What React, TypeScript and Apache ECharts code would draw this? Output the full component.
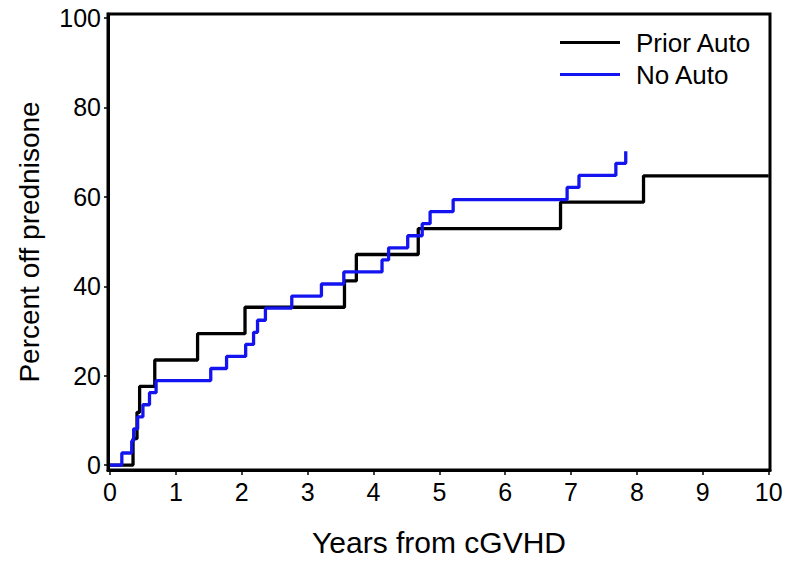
import React, { useEffect, useRef } from "react";
import * as echarts from "echarts";

const xTicks = [0, 1, 2, 3, 4, 5, 6, 7, 8, 9, 10];
const yTicks = [0, 20, 40, 60, 80, 100];

const priorAutoX = [0, 0.35, 0.41, 0.45, 0.68, 1.33, 2.05, 3.56, 3.74, 4.68, 6.84, 8.1, 10.0];
const priorAutoY = [0, 5.9, 11.8, 17.6, 23.5, 29.4, 35.3, 41.2, 47.1, 52.9, 58.8, 64.7, 64.7];

const noAutoX = [0, 0.18, 0.33, 0.36, 0.42, 0.5, 0.6, 0.7, 1.53, 1.77, 2.06, 2.18, 2.24, 2.36, 2.76, 3.21, 3.55, 4.13, 4.23, 4.52, 4.74, 4.86, 5.21, 6.94, 7.12, 7.68, 7.83];
const noAutoY = [0, 2.7, 5.4, 8.1, 10.8, 13.5, 16.2, 18.9, 21.6, 24.3, 27.0, 29.7, 32.4, 35.1, 37.8, 40.5, 43.2, 45.9, 48.6, 51.3, 54.0, 56.7, 59.4, 62.1, 64.8, 67.5, 70.2];

const seriesNames = ["Prior Auto", "No Auto"];

export default function App() {
  const ref = useRef<HTMLDivElement>(null);
  useEffect(() => {
    if (!ref.current) return;
    const chart = echarts.init(ref.current, null, { renderer: "svg" });
    const font = "'Liberation Sans', Arial, sans-serif";
    chart.setOption({
      animation: false,
      backgroundColor: "#fff",
      grid: {
        left: 108,
        right: 16,
        top: 14,
        bottom: 89,
        show: true,
        borderColor: "#000",
        borderWidth: 3,
      },
      legend: {
        show: true,
        orient: "vertical",
        left: 555,
        top: 24,
        icon: "rect",
        itemWidth: 60,
        itemHeight: 3,
        itemGap: 5,
        data: seriesNames,
        textStyle: {
          fontFamily: font,
          fontSize: 26,
          color: "#000",
          lineHeight: 27,
          padding: [0, 0, 0, 11],
        },
      },
      xAxis: {
        type: "value",
        min: -0.03,
        max: 10.02,
        interval: 1,
        name: "Years from cGVHD",
        nameLocation: "middle",
        nameGap: 57,
        nameTextStyle: { fontFamily: font, fontSize: 30, color: "#000" },
        axisLine: { show: true, onZero: false, lineStyle: { color: "#000", width: 3 } },
        axisTick: {
          show: true,
          length: 5,
          lineStyle: { color: "#000", width: 1.5 },
          customValues: xTicks,
        },
        axisLabel: {
          fontFamily: font,
          fontSize: 25,
          color: "#000",
          margin: 9,
          customValues: xTicks,
          formatter: (v: number) => String(v),
        },
        splitLine: { show: false },
      },
      yAxis: {
        type: "value",
        min: -1.1,
        max: 100.9,
        name: "Percent off prednisone",
        nameLocation: "middle",
        nameGap: 65,
        nameTextStyle: { fontFamily: font, fontSize: 28, color: "#000" },
        axisLine: { show: true, onZero: false, lineStyle: { color: "#000", width: 3 } },
        axisTick: {
          show: true,
          length: 4,
          lineStyle: { color: "#000", width: 1.5 },
          customValues: yTicks,
        },
        axisLabel: {
          fontFamily: font,
          fontSize: 25,
          color: "#000",
          margin: 7,
          customValues: yTicks,
          formatter: (v: number) => String(v),
        },
        splitLine: { show: false },
      },
      series: [
        {
          name: seriesNames[0],
          type: "line",
          step: "end",
          symbol: "none",
          lineStyle: { color: "#000", width: 3.3 },
          itemStyle: { color: "#000" },
          data: priorAutoX.map((x, i) => [x, priorAutoY[i]]),
          z: 3,
        },
        {
          name: seriesNames[1],
          type: "line",
          step: "end",
          symbol: "none",
          lineStyle: { color: "#1414f0", width: 3.3 },
          itemStyle: { color: "#1414f0" },
          data: noAutoX.map((x, i) => [x, noAutoY[i]]),
          z: 4,
        },
      ],
    });
    return () => chart.dispose();
  }, []);
  return (
    <div
      ref={ref}
      style={{ position: "fixed", left: 0, top: 0, width: 786, height: 562, background: "#fff" }}
    />
  );
}
